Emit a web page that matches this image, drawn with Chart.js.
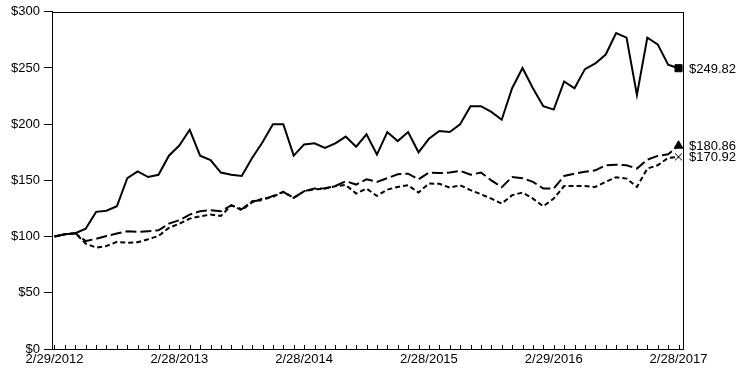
<!DOCTYPE html>
<html>
<head>
<meta charset="utf-8">
<script src="https://cdn.jsdelivr.net/npm/chart.js@4"></script>
<style>
  html, body { margin: 0; padding: 0; background: #fff; }
</style>
</head>
<body>
<canvas id="growthChart" width="744" height="390"></canvas>
<script>
// month index 0 = 2/29/2012 ... 60 = 2/28/2017
const months = Array.from({ length: 61 }, (_, i) => i);
const yearLabels = ['2/29/2012', '2/28/2013', '2/28/2014', '2/28/2015', '2/29/2016', '2/28/2017'];

const fundValues = [100, 102, 103, 107, 122, 123, 127, 152, 158, 153,
    155, 172, 181, 195, 172, 168, 157, 155, 154, 170,
    184, 200, 200, 172, 182, 183, 179, 183, 189, 180,
    191, 173, 193, 185, 193, 175, 187, 194, 193, 200,
    216, 216, 211, 204, 232, 250, 232, 216, 213, 238,
    232, 249, 254, 262, 281, 277, 226, 277, 271, 253, 249.82];

const index1Values = [100, 102, 103, 96, 98, 100.6, 102.7, 104.8, 104.2, 104.8,
    105.6, 111.5, 114.6, 119.6, 122.6, 123.5, 122.6, 127.9, 124.4, 131.5,
    132.4, 136.2, 139.8, 134.4, 140.4, 142.7, 143, 145, 149.3, 146.3,
    151, 148.7, 152, 155.5, 156, 151, 157, 156.5, 157, 158.5,
    155, 157, 150, 144, 153, 152, 148.7, 142.7, 142.7, 154,
    156, 157.6, 159, 163.5, 164, 163.5, 160.5, 168.5, 171.8, 173.3, 180.86];

const index2Values = [100, 102, 103, 93.8, 90.2, 91.7, 95.3, 94.6, 95, 97.6,
    100.6, 107.7, 111.5, 116, 118, 119.6, 118.4, 127.9, 123.5, 130.6,
    133.8, 135.3, 139.8, 134.4, 140.4, 142, 142.7, 144.8, 146, 138.3,
    142.7, 136.2, 141.8, 144.2, 145.7, 139.2, 147.2, 147, 143.6, 145.7,
    141.3, 137.7, 133.8, 129.4, 136.8, 139.2, 133.8, 127, 133.8, 145,
    145, 145, 144.2, 148.7, 152.8, 151.6, 144.2, 160.5, 163.5, 170, 170.92];

const FONT = { family: '"Liberation Sans", Arial, sans-serif', size: 13 };

function makeSeries(values, dash, marker) {
    return {
        data: values.map((v, i) => ({ x: months[i], y: v })),
        borderColor: '#000',
        backgroundColor: '#000',
        borderWidth: 2,
        borderDash: dash,
        tension: 0,
        fill: false,
        pointStyle: marker,
        // marker only on the last point
        pointRadius: months.map(i => (i === months.length - 1 ? 5 : 0)),
        pointBorderWidth: 1,
        pointBackgroundColor: '#000',
        pointBorderColor: '#000'
    };
}

// inward month ticks on the bottom axis + frame around the plot
const framePlugin = {
    id: 'frame',
    afterDraw(chart) {
        const { ctx, chartArea } = chart;
        const xScale = chart.scales.x;
        ctx.save();
        ctx.strokeStyle = '#000';
        ctx.lineWidth = 1;
        ctx.beginPath();
        months.forEach(m => {
            const px = Math.round(xScale.getPixelForValue(m)) + 0.5;
            ctx.moveTo(px, chartArea.bottom);
            ctx.lineTo(px, chartArea.bottom - 4);
        });
        ctx.stroke();
        ctx.strokeRect(Math.round(chartArea.left) + 0.5, Math.round(chartArea.top) + 0.5,
            Math.round(chartArea.right - chartArea.left), Math.round(chartArea.bottom - chartArea.top));
        ctx.restore();
    }
};

// end value labels to the right of the plot
const endLabelPlugin = {
    id: 'endLabels',
    afterDatasetsDraw(chart) {
        const { ctx, chartArea } = chart;
        ctx.save();
        ctx.font = `${FONT.size}px ${FONT.family}`;
        ctx.fillStyle = '#000';
        ctx.textAlign = 'left';
        ctx.textBaseline = 'middle';
        chart.data.datasets.forEach((ds, di) => {
            const meta = chart.getDatasetMeta(di);
            const pt = meta.data[meta.data.length - 1];
            const v = ds.data[ds.data.length - 1].y;
            ctx.fillText('$' + v.toFixed(2), chartArea.right + 6, pt.y + 1);
        });
        ctx.restore();
    }
};

const ctx = document.getElementById('growthChart');
new Chart(ctx, {
    type: 'line',
    data: {
        datasets: [
            makeSeries(fundValues, [], 'rect'),
            makeSeries(index1Values, [11, 4], 'triangle'),
            makeSeries(index2Values, [5, 3], 'crossRot')
        ]
    },
    options: {
        responsive: false,
        devicePixelRatio: 1,
        animation: false,
        layout: { padding: { top: 11, right: 61, bottom: 0, left: 0 } },
        plugins: {
            legend: { display: false },
            tooltip: { enabled: false }
        },
        scales: {
            x: {
                type: 'linear',
                min: -0.24,
                max: 60.43,
                afterBuildTicks: axis => {
                    axis.ticks = months.map(m => ({ value: m }));
                },
                afterFit: scale => { scale.height = 41; },
                ticks: {
                    autoSkip: false,
                    maxRotation: 0,
                    minRotation: 0,
                    padding: 3,
                    color: '#000',
                    font: FONT,
                    callback: function (value) {
                        return value % 12 === 0 ? yearLabels[value / 12] : '';
                    }
                },
                grid: { display: false, drawTicks: false },
                border: { display: true, color: '#000', width: 1 }
            },
            y: {
                min: 0,
                max: 300,
                afterFit: scale => { scale.width = 52; },
                ticks: {
                    stepSize: 50,
                    padding: 4,
                    color: '#000',
                    font: FONT,
                    callback: v => '$' + v
                },
                grid: {
                    drawOnChartArea: false,
                    drawTicks: true,
                    tickLength: 8,
                    color: '#000'
                },
                border: { display: true, color: '#000', width: 1 }
            }
        }
    },
    plugins: [framePlugin, endLabelPlugin]
});
</script>
</body>
</html>
